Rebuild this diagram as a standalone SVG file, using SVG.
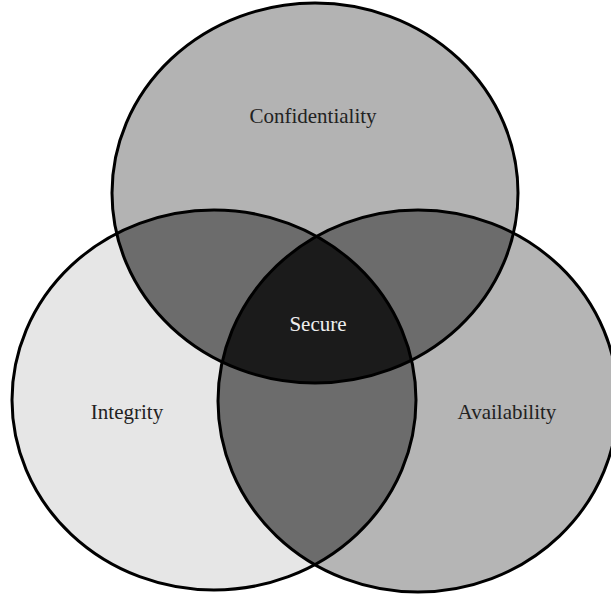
<svg xmlns="http://www.w3.org/2000/svg" width="611" height="597" viewBox="0 0 611 597">
  <style>
    .outline { fill: none; stroke: #000; stroke-width: 3; }
    .lbl { font-family: "Liberation Serif", "Times New Roman", serif; font-size: 21px; text-anchor: middle; fill: #222; }
    .lbl-w { fill: #eee; }
    .pair { fill: #6c6c6c; }
    .triple { fill: #1b1b1b; }
  </style>
  <defs>
    <ellipse id="eC" cx="315" cy="193" rx="203" ry="190"/>
    <ellipse id="eI" cx="214" cy="400" rx="202" ry="190"/>
    <ellipse id="eA" cx="418" cy="401" rx="200" ry="191"/>
    <clipPath id="cC"><use href="#eC"/></clipPath>
    <clipPath id="cI"><use href="#eI"/></clipPath>
    <clipPath id="cA"><use href="#eA"/></clipPath>
  </defs>
  <rect width="611" height="597" fill="#fff"/>
  <g id="confidentiality">
    <use href="#eC" fill="#b3b3b3"/>
  </g>
  <g id="integrity">
    <use href="#eI" fill="#e6e6e6"/>
  </g>
  <g id="availability">
    <use href="#eA" fill="#b5b5b5"/>
  </g>
  <g id="overlaps">
    <g clip-path="url(#cC)"><use href="#eI" class="pair"/><use href="#eA" class="pair"/></g>
    <g clip-path="url(#cI)"><use href="#eA" class="pair"/></g>
    <g clip-path="url(#cC)"><g clip-path="url(#cI)"><use href="#eA" class="triple"/></g></g>
  </g>
  <g id="outlines">
    <use href="#eC" class="outline"/>
    <use href="#eI" class="outline"/>
    <use href="#eA" class="outline"/>
  </g>
  <g id="labels">
    <text class="lbl" x="313" y="123">Confidentiality</text>
    <text class="lbl" x="127" y="419">Integrity</text>
    <text class="lbl" x="507" y="419">Availability</text>
    <text class="lbl lbl-w" x="318" y="331">Secure</text>
  </g>
</svg>
